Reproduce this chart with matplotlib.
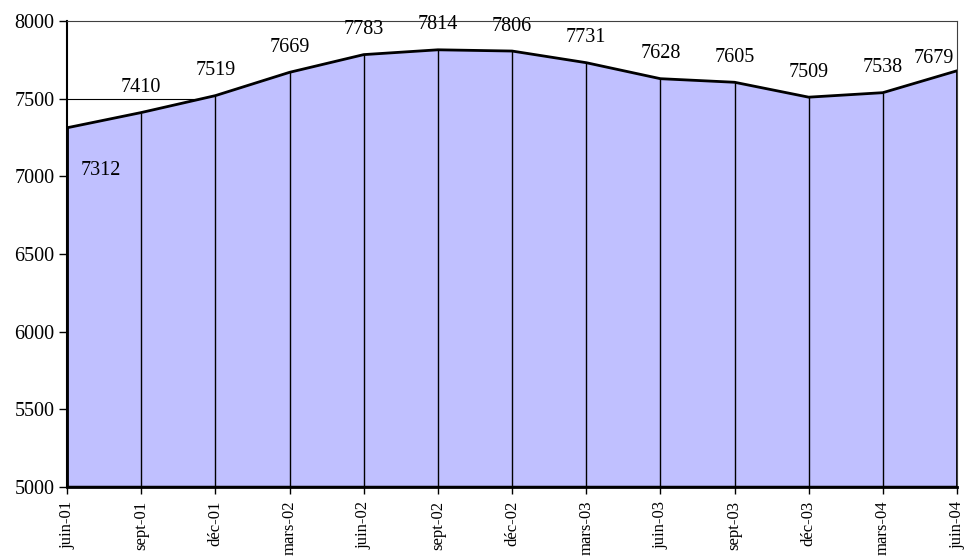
import matplotlib.pyplot as plt

plt.rcParams['font.family'] = ['Liberation Serif', 'DejaVu Serif']

labels = ['juin-01', 'sept-01', 'déc-01', 'mars-02', 'juin-02', 'sept-02', 'déc-02',
          'mars-03', 'juin-03', 'sept-03', 'déc-03', 'mars-04', 'juin-04']
values = [7312, 7410, 7519, 7669, 7783, 7814, 7806, 7731, 7628, 7605, 7509, 7538, 7679]
yticks = [5000, 5500, 6000, 6500, 7000, 7500, 8000]

x = list(range(len(values)))

fig = plt.figure(figsize=(9.72, 5.59), dpi=100)
ax = fig.add_axes([0.069, 0.129, 0.9156, 0.8336])

ax.set_ylim(5000, 8000)
ax.set_xlim(0, len(values) - 1)

# gridlines sit behind the area, only the 7500 one peeks out
for t in yticks[1:-1]:
    ax.axhline(t, color='black', lw=0.8, zorder=1)

ax.fill_between(x, values, 5000, color='#c0c0ff', zorder=2)
ax.plot(x, values, color='black', lw=2, zorder=4)
ax.vlines(x, 5000, values, color='black', lw=1, zorder=3)
ax.plot([0, 0], [5000, values[0]], color='black', lw=2, zorder=4)
ax.plot([x[-1], x[-1]], [5000, values[-1]], color='black', lw=2, zorder=4)
ax.axhline(5000, color='black', lw=2.5, zorder=5)

for i, v in enumerate(values):
    if i == 0:
        off = (24, -31)
    elif i == len(values) - 1:
        off = (-17, 9)
    else:
        off = (0, 18)
    ax.annotate(str(v), (i, v), xytext=off, textcoords='offset points',
                ha='center', va='center', fontsize=14.5)

ax.set_yticks(yticks)
ax.set_yticklabels([str(t) for t in yticks], fontsize=14.5)
ax.set_xticks(x)
ax.set_xticklabels(labels, rotation=90, fontsize=12)
ax.tick_params(axis='y', direction='out', length=6, width=1, pad=3)
ax.tick_params(axis='x', direction='out', length=5, width=1, pad=5)

for side in ['top', 'right']:
    ax.spines[side].set_color('#404040')
    ax.spines[side].set_linewidth(0.8)
ax.spines['left'].set_linewidth(1.5)
ax.spines['bottom'].set_linewidth(2)

fig.savefig('out.png', dpi=100)
